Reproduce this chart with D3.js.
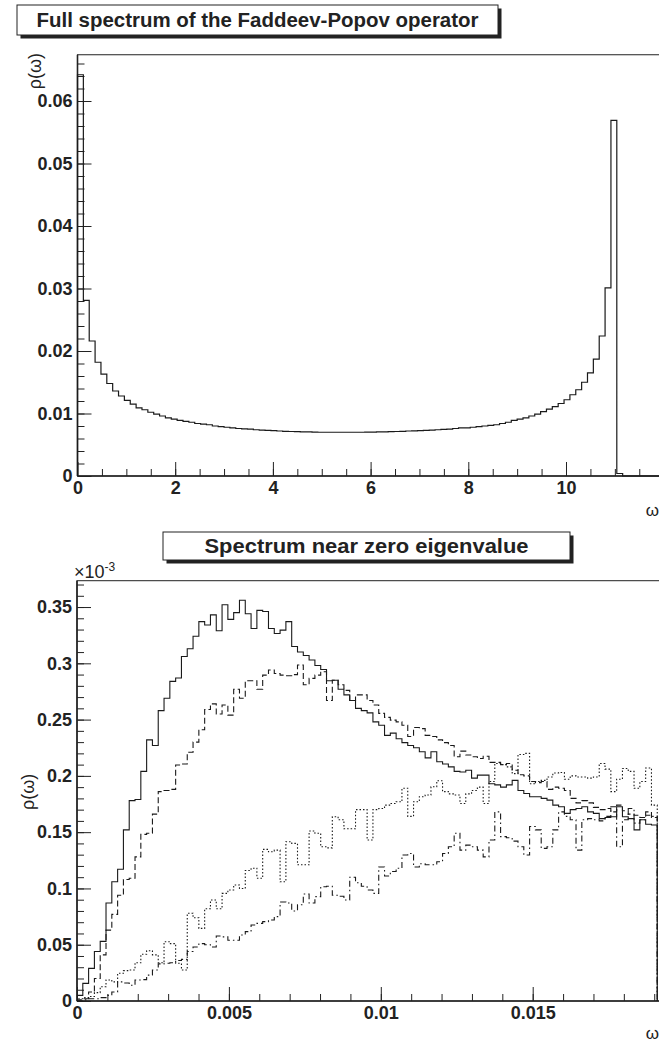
<!DOCTYPE html>
<html>
<head>
<meta charset="utf-8">
<script src="https://cdn.jsdelivr.net/npm/d3@7"></script>
<style>
  body { margin: 0; background: #fff; }
  svg { display: block; font-family: "Liberation Sans", Arial, Helvetica, sans-serif; }
  .tick text { font-size: 18px; font-weight: bold; fill: #222; }
  .tick line { stroke: #222; stroke-width: 1; }
</style>
</head>
<body>
<svg id="chart" width="659" height="1043"></svg>
<script>
// full spectrum, 100 bins of width 0.12 on [0, 12]
const fullBinWidth = 0.12;
const fullSpectrum = [
  0.0642, 0.0281, 0.0216, 0.0182, 0.0163, 0.0148, 0.0136, 0.0128, 0.0121, 0.0115,
  0.0109, 0.0106, 0.0102, 0.0099, 0.0096, 0.0093, 0.0091, 0.0089, 0.00875, 0.0086,
  0.0084, 0.0083, 0.0082, 0.0080, 0.0079, 0.0078, 0.0077, 0.0076, 0.00755, 0.0075,
  0.0074, 0.00735, 0.0073, 0.00725, 0.0072, 0.00715, 0.00712, 0.0071, 0.00707, 0.00705,
  0.00703, 0.0070, 0.0070, 0.0070, 0.0070, 0.0070, 0.0070, 0.0070, 0.0070, 0.00702,
  0.00703, 0.00705, 0.00707, 0.0071, 0.00712, 0.00715, 0.0072, 0.00723, 0.00727, 0.0073,
  0.00735, 0.0074, 0.00745, 0.0075, 0.0076, 0.0077, 0.0077, 0.0078, 0.0079, 0.0080,
  0.0081, 0.0082, 0.0084, 0.0086, 0.0089, 0.0091, 0.0093, 0.0096, 0.0099, 0.0103,
  0.0107, 0.0111, 0.0116, 0.0122, 0.0130, 0.0138, 0.0150, 0.0165, 0.0187, 0.0224,
  0.0301, 0.0569, 0.0004, 0, 0, 0, 0, 0, 0, 0
];
const fullXTicks = [0, 2, 4, 6, 8, 10];
const fullYTicks = [0, 0.01, 0.02, 0.03, 0.04, 0.05, 0.06];

// near-zero spectrum (units of 1e-3), 100 bins of width 0.000191
const zeroBinWidth = 0.000191;
const solid = [
  0.005, 0.0157, 0.029, 0.044, 0.053, 0.087, 0.106, 0.117, 0.152, 0.178,
  0.179, 0.204, 0.232, 0.227, 0.258, 0.269, 0.284, 0.287, 0.306, 0.313,
  0.324, 0.337, 0.334, 0.343, 0.329, 0.352, 0.339, 0.345, 0.356, 0.344,
  0.331, 0.347, 0.346, 0.331, 0.3265, 0.3295, 0.337, 0.315, 0.310, 0.307,
  0.303, 0.298, 0.2945, 0.2845, 0.285, 0.277, 0.272, 0.267, 0.260, 0.258,
  0.256, 0.248, 0.245, 0.236, 0.238, 0.233, 0.2295, 0.227, 0.225, 0.2215,
  0.216, 0.2215, 0.2125, 0.2105, 0.208, 0.204, 0.2035, 0.205, 0.198, 0.2007,
  0.2007, 0.193, 0.192, 0.190, 0.192, 0.196, 0.187, 0.1844, 0.1815, 0.1815,
  0.180, 0.1785, 0.174, 0.1726, 0.1667, 0.170, 0.171, 0.1726, 0.168, 0.1667,
  0.162, 0.163, 0.1637, 0.1726, 0.1637, 0.162, 0.152, 0.161, 0.157, 0.1563
];
const dashed = [
  0.001, 0.002, 0.008, 0.020, 0.041, 0.063, 0.077, 0.094, 0.108, 0.109,
  0.128, 0.148, 0.149, 0.166, 0.186, 0.187, 0.188, 0.2096, 0.2105, 0.221,
  0.230, 0.241, 0.259, 0.264, 0.255, 0.263, 0.254, 0.277, 0.269, 0.2845,
  0.2845, 0.277, 0.2895, 0.294, 0.291, 0.2895, 0.289, 0.290, 0.2985, 0.281,
  0.2866, 0.2895, 0.2925, 0.267, 0.285, 0.281, 0.276, 0.267, 0.272, 0.272,
  0.267, 0.263, 0.2555, 0.252, 0.2495, 0.248, 0.245, 0.235, 0.243, 0.242,
  0.236, 0.235, 0.232, 0.2295, 0.227, 0.217, 0.222, 0.2185, 0.217, 0.2155,
  0.2175, 0.212, 0.212, 0.210, 0.211, 0.205, 0.201, 0.200, 0.195, 0.194,
  0.195, 0.188, 0.190, 0.189, 0.187, 0.180, 0.176, 0.178, 0.176, 0.172,
  0.170, 0.171, 0.168, 0.174, 0.169, 0.166, 0.165, 0.163, 0.168, 0.163
];
const dotted = [
  0.002, 0.003, 0.004, 0.0074, 0.0127, 0.0187, 0.017, 0.0246, 0.027, 0.0275,
  0.034, 0.0415, 0.0447, 0.041, 0.034, 0.0527, 0.051, 0.0335, 0.0275, 0.078,
  0.074, 0.0645, 0.082, 0.0897, 0.082, 0.0956, 0.0986, 0.103, 0.100, 0.116,
  0.118, 0.109, 0.1347, 0.1326, 0.134, 0.106, 0.1415, 0.140, 0.121, 0.121,
  0.151, 0.149, 0.137, 0.136, 0.1637, 0.161, 0.153, 0.153, 0.170, 0.170,
  0.143, 0.170, 0.171, 0.174, 0.1755, 0.177, 0.189, 0.164, 0.177, 0.1815,
  0.183, 0.1904, 0.1957, 0.186, 0.184, 0.183, 0.1755, 0.184, 0.187, 0.190,
  0.1755, 0.195, 0.211, 0.210, 0.208, 0.202, 0.219, 0.220, 0.193, 0.195,
  0.196, 0.199, 0.2025, 0.203, 0.197, 0.200, 0.199, 0.199, 0.198, 0.199,
  0.211, 0.206, 0.186, 0.197, 0.2066, 0.204, 0.189, 0.195, 0.207, 0.174
];
const dashDot = [
  0.000, 0.001, 0.002, 0.002, 0.003, 0.005, 0.008, 0.017, 0.016, 0.014,
  0.0187, 0.019, 0.023, 0.0275, 0.033, 0.0335, 0.034, 0.036, 0.037, 0.044,
  0.048, 0.051, 0.050, 0.048, 0.0577, 0.057, 0.054, 0.054, 0.0586, 0.0616,
  0.0675, 0.069, 0.0705, 0.072, 0.075, 0.088, 0.087, 0.080, 0.0855, 0.095,
  0.087, 0.0927, 0.1015, 0.102, 0.094, 0.093, 0.0897, 0.110, 0.105, 0.102,
  0.0986, 0.0956, 0.119, 0.111, 0.115, 0.118, 0.1297, 0.131, 0.119, 0.122,
  0.121, 0.121, 0.1237, 0.131, 0.137, 0.149, 0.134, 0.1385, 0.137, 0.134,
  0.128, 0.143, 0.168, 0.146, 0.145, 0.142, 0.137, 0.1297, 0.155, 0.152,
  0.1356, 0.137, 0.152, 0.168, 0.164, 0.161, 0.134, 0.161, 0.162, 0.161,
  0.160, 0.164, 0.1726, 0.137, 0.161, 0.171, 0.158, 0.161, 0.165, 0.164
];
const zeroXTicks = [0, 0.005, 0.01, 0.015];
const zeroYTicks = [0, 0.05, 0.1, 0.15, 0.2, 0.25, 0.3, 0.35];

const svg = d3.select("#chart");

function stepPath(values, binW, x, y) {
    let pts = [[0, 0]];
    values.forEach((v, i) => {
        pts.push([i * binW, v]);
        pts.push([(i + 1) * binW, v]);
    });
    pts.push([values.length * binW, 0]);
    return d3.line().x(d => x(d[0])).y(d => y(d[1]))(pts);
}

function titleBox(cx, top, w, h, text, textW) {
    let g = svg.append("g");
    g.append("rect")
        .attr("x", cx - w / 2 + 3.5).attr("y", top + 3.5)
        .attr("width", w).attr("height", h)
        .attr("fill", "#222");
    g.append("rect")
        .attr("x", cx - w / 2).attr("y", top)
        .attr("width", w).attr("height", h)
        .attr("fill", "#fff").attr("stroke", "#222").attr("stroke-width", 1);
    g.append("text")
        .attr("x", cx).attr("y", top + h / 2 + 7)
        .attr("text-anchor", "middle")
        .attr("textLength", textW)
        .attr("lengthAdjust", "spacingAndGlyphs")
        .style("font-size", "20px").style("font-weight", "bold").style("fill", "#222")
        .text(text);
}

function drawFrame(x, y, xMajor, yMajor, xMinor, yMinor, fmt) {
    let [x0, x1] = x.range();
    let [y0, y1] = y.range();

    svg.append("rect")
        .attr("x", x0).attr("y", y1)
        .attr("width", x1 - x0).attr("height", y0 - y1)
        .attr("fill", "none").attr("stroke", "#222").attr("stroke-width", 1);

    svg.append("g")
        .attr("transform", "translate(" + x0 + ",0)")
        .call(d3.axisLeft(y).tickValues(yMinor).tickSize(-7).tickFormat(""))
        .call(g => g.select(".domain").remove());
    svg.append("g")
        .attr("transform", "translate(" + x0 + ",0)")
        .call(d3.axisLeft(y).tickValues(yMajor).tickSize(-14).tickPadding(5).tickFormat(fmt))
        .call(g => g.select(".domain").remove());

    svg.append("g")
        .attr("transform", "translate(0," + y0 + ")")
        .call(d3.axisBottom(x).tickValues(xMinor).tickSize(-7).tickFormat(""))
        .call(g => g.select(".domain").remove());
    svg.append("g")
        .attr("transform", "translate(0," + y0 + ")")
        .call(d3.axisBottom(x).tickValues(xMajor).tickSize(-14).tickPadding(5).tickFormat(fmt))
        .call(g => g.select(".domain").remove());

    svg.append("line")
        .attr("x1", x0).attr("x2", x0).attr("y1", y1).attr("y2", y0)
        .attr("stroke", "#222").attr("stroke-width", 1.6);
    svg.append("line")
        .attr("x1", x0).attr("x2", x1).attr("y1", y0).attr("y2", y0)
        .attr("stroke", "#222").attr("stroke-width", 1.6);
}

const fmt = d => d3.format("~g")(d);

// ---------- top: full spectrum ----------
titleBox(257.5, 5, 481, 30, "Full spectrum of the Faddeev-Popov operator", 442);

let x1 = d3.scaleLinear().domain([0, 12]).range([77.5, 663.7]);
let y1 = d3.scaleLinear().domain([0, 0.0674]).range([476, 54.75]);

drawFrame(x1, y1, fullXTicks, fullYTicks,
    d3.range(0.5, 12, 0.5), d3.range(0.002, 0.067, 0.002), fmt);

svg.append("path")
    .attr("d", stepPath(fullSpectrum, fullBinWidth, x1, y1))
    .attr("fill", "none").attr("stroke", "#1a1a1a").attr("stroke-width", 1.2);

svg.append("text")
    .attr("transform", "translate(41,53) rotate(-90)")
    .attr("text-anchor", "end")
    .style("font-size", "18px").style("fill", "#222")
    .text("ρ(ω)");

svg.append("text")
    .attr("x", 659).attr("y", 516)
    .attr("text-anchor", "end")
    .style("font-size", "17px").style("fill", "#222")
    .text("ω");

// ---------- bottom: near zero ----------
titleBox(366.5, 532, 407, 28, "Spectrum near zero eigenvalue", 324);

let x2 = d3.scaleLinear().domain([0, 0.02]).range([77, 684.6]);
let y2 = d3.scaleLinear().domain([0, 0.3734]).range([1001, 580.7]);

drawFrame(x2, y2, zeroXTicks, zeroYTicks,
    d3.range(0.001, 0.02, 0.001), d3.range(0.01, 0.371, 0.01), fmt);

svg.append("clipPath").attr("id", "clip2")
    .append("rect").attr("x", 77).attr("y", 580).attr("width", 610).attr("height", 422);

const series = [
    { values: dashDot, dash: "6,3,1.5,3" },
    { values: dotted, dash: "1.5,2" },
    { values: dashed, dash: "6,3" },
    { values: solid, dash: null }
];

svg.append("g").attr("clip-path", "url(#clip2)")
    .selectAll("path")
    .data(series)
    .enter().append("path")
    .attr("d", d => stepPath(d.values, zeroBinWidth, x2, y2))
    .attr("fill", "none")
    .attr("stroke", "#1a1a1a")
    .attr("stroke-width", 1.1)
    .attr("stroke-dasharray", d => d.dash);

let expo = svg.append("text")
    .attr("x", 74).attr("y", 578)
    .style("font-size", "18px").style("fill", "#222");
expo.append("tspan").text("×10");
expo.append("tspan").attr("dy", -7).style("font-size", "12px").text("-3");

svg.append("text")
    .attr("transform", "translate(34,810) rotate(-90)")
    .style("font-size", "18px").style("fill", "#222")
    .text("ρ(ω)");

svg.append("text")
    .attr("x", 659).attr("y", 1039)
    .attr("text-anchor", "end")
    .style("font-size", "17px").style("fill", "#222")
    .text("ω");
</script>
</body>
</html>
